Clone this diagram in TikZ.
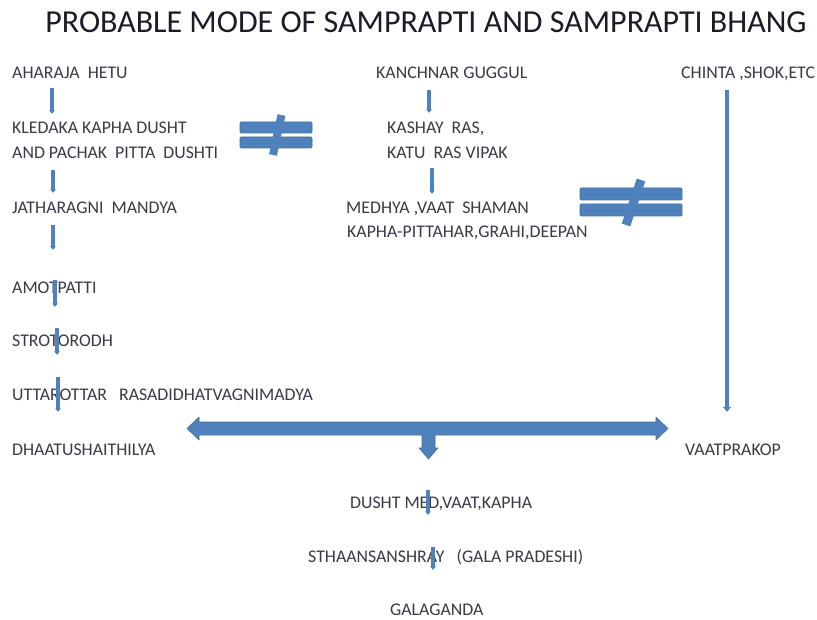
\documentclass[tikz,border=0pt]{standalone}
\usepackage{fontspec}
\setmainfont{Carlito}
\usetikzlibrary{arrows.meta}
\definecolor{ablue}{HTML}{4F81BD}
\definecolor{aedge}{HTML}{41719C}
\definecolor{txt}{HTML}{3A3A48}
\definecolor{ttl}{HTML}{1C1C28}

\begin{document}
\begin{tikzpicture}[
  x=1pt, y=-1pt,
  lbl/.style={anchor=west, inner sep=0pt, text height=11pt, text depth=0pt, font=\fontsize{17.8}{20}\selectfont, text=txt},
  ttlbl/.style={inner sep=0pt, font=\fontsize{32}{36}\selectfont, text=ttl},
  flow/.style={ablue, line width=3.2pt, -{Triangle[width=5.5pt,length=3.5pt]}},
  bigflow/.style={ablue, line width=4.5pt, -{Triangle[width=8pt,length=5pt]}},
  blockarr/.style={fill=ablue, draw=aedge, line width=0.6pt, line join=round},
  neqbar/.style={fill=ablue, draw=aedge, line width=0.6pt, rounded corners=1pt},
]
\fill[white] (0,0) rectangle (817,620);
\useasboundingbox (0,0) rectangle (817,620);

\node[ttlbl] (title) at (426,22) {PROBABLE MODE OF SAMPRAPTI AND SAMPRAPTI BHANG};

% left column
\node[lbl] (aha) at (12,73) {AHARAJA~ HETU};
\node[lbl] (kle) at (12,128) {KLEDAKA KAPHA DUSHT};
\node[lbl] (pac) at (12,153) {AND PACHAK~ PITTA~ DUSHTI};
\node[lbl] (jat) at (12,208) {JATHARAGNI~ MANDYA};
\node[lbl] (amo) at (12,288) {AMOTPATTI};
\node[lbl] (stro) at (12,341) {STROTORODH};
\node[lbl] (utt) at (12,395) {UTTAROTTAR~~ RASADIDHATVAGNIMADYA};
\node[lbl] (dhaa) at (12,450) {DHAATUSHAITHILYA};

% middle column
\node[lbl] (kanch) at (376,73) {KANCHNAR GUGGUL};
\node[lbl] (kash) at (387,128) {KASHAY~ RAS,};
\node[lbl] (katu) at (387,153) {KATU~ RAS VIPAK};
\node[lbl] (medh) at (346,208) {MEDHYA ,VAAT~ SHAMAN};
\node[lbl] (kapha) at (347,232) {KAPHA-PITTAHAR,GRAHI,DEEPAN};

% right column
\node[lbl] (chin) at (681,73) {CHINTA ,SHOK,ETC};
\node[lbl] (vaat) at (685,450) {VAATPRAKOP};

% bottom
\node[lbl] (dusht) at (350,503) {DUSHT MED,VAAT,KAPHA};
\node[lbl] (stha) at (308,557) {STHAANSANSHRAY~~ (GALA PRADESHI)};
\node[lbl] (gala) at (390,610) {GALAGANDA};

% small arrows
\draw[flow, shorten <=9.5pt, shorten >=8.5pt] (aha.south -| 52,0) -- (kle.north -| 52,0);
\draw[flow, shorten <=11.5pt, shorten >=9.5pt] (pac.south -| 53,0) -- (jat.north -| 53,0);
\draw[flow, shorten <=11.5pt, shorten >=32.5pt] (jat.south -| 53,0) -- (amo.north -| 53,0);
\draw[flow, shorten <=-13.5pt, shorten >=28.5pt] (amo.south -| 55,0) -- (stro.north -| 55,0);
\draw[flow, shorten <=-18.5pt, shorten >=34.5pt] (stro.south -| 57,0) -- (utt.north -| 57,0);
\draw[flow, shorten <=-23.5pt, shorten >=32.5pt] (utt.south -| 58,0) -- (dhaa.north -| 58,0);
\draw[flow, shorten <=11.5pt, shorten >=9.5pt] (kanch.south -| 429,0) -- (kash.north -| 429,0);
\draw[flow, shorten <=9.5pt, shorten >=8.5pt] (katu.south -| 432,0) -- (medh.north -| 432,0);
\draw[flow, shorten <=-18.5pt, shorten >=36.5pt] (dusht.south -| 428,0) -- (stha.north -| 428,0);
\draw[flow, shorten <=-15.5pt, shorten >=34.5pt] (stha.south -| 433,0) -- (gala.north -| 433,0);
\draw[bigflow, shorten <=11.5pt, shorten >=32.5pt] (chin.south -| 727,0) -- (vaat.north -| 727,0);

% not-equal signs
\draw[neqbar] (240,122) rectangle (312,133);
\draw[neqbar] (240,137) rectangle (312,148);
\draw[ablue, line width=8pt] (281.5,115) -- (273,155);
\draw[neqbar] (580,188) rectangle (682,200);
\draw[neqbar] (580,204) rectangle (682,216);
\draw[ablue, line width=9pt] (641,180) -- (626,225);

% block arrow between dhaatushaithilya and vaatprakop
\draw[blockarr] (187,428.5) -- (199,417) -- (199,422) -- (656,422) -- (656,417)
  -- (668,428.5) -- (656,440) -- (656,435) -- (435,435) -- (435,448) -- (438,448)
  -- (428.5,459) -- (419,448) -- (422,448) -- (422,435) -- (199,435) -- (199,440) -- cycle;
\end{tikzpicture}
\end{document}
